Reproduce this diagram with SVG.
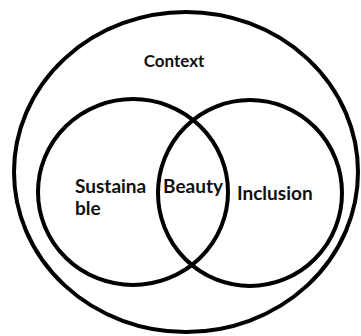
<svg xmlns="http://www.w3.org/2000/svg" width="361" height="336" viewBox="0 0 361 336">
<style>
.c{fill:none;stroke:#000;stroke-width:4}
.t{font-family:Lato,"Open Sans","Liberation Sans",sans-serif;font-weight:bold;fill:#111}
</style>
<rect width="361" height="336" fill="#fff"/>
<g id="context">
<ellipse class="c" cx="186" cy="172" rx="172" ry="160"/>
<text class="t" x="174" y="67" font-size="17" text-anchor="middle">Context</text>
</g>
<g id="sustainable">
<ellipse class="c" cx="133" cy="192" rx="95" ry="93"/>
<text class="t" x="75" y="193" font-size="19">Sustaina</text>
<text class="t" x="75" y="215" font-size="19">ble</text>
</g>
<g id="inclusion">
<ellipse class="c" cx="250" cy="193" rx="92" ry="93"/>
<text class="t" x="237" y="200" font-size="19">Inclusion</text>
</g>
<g id="beauty">
<text class="t" x="163" y="193" font-size="19">Beauty</text>
</g>
<g id="connectors"/>
</svg>
